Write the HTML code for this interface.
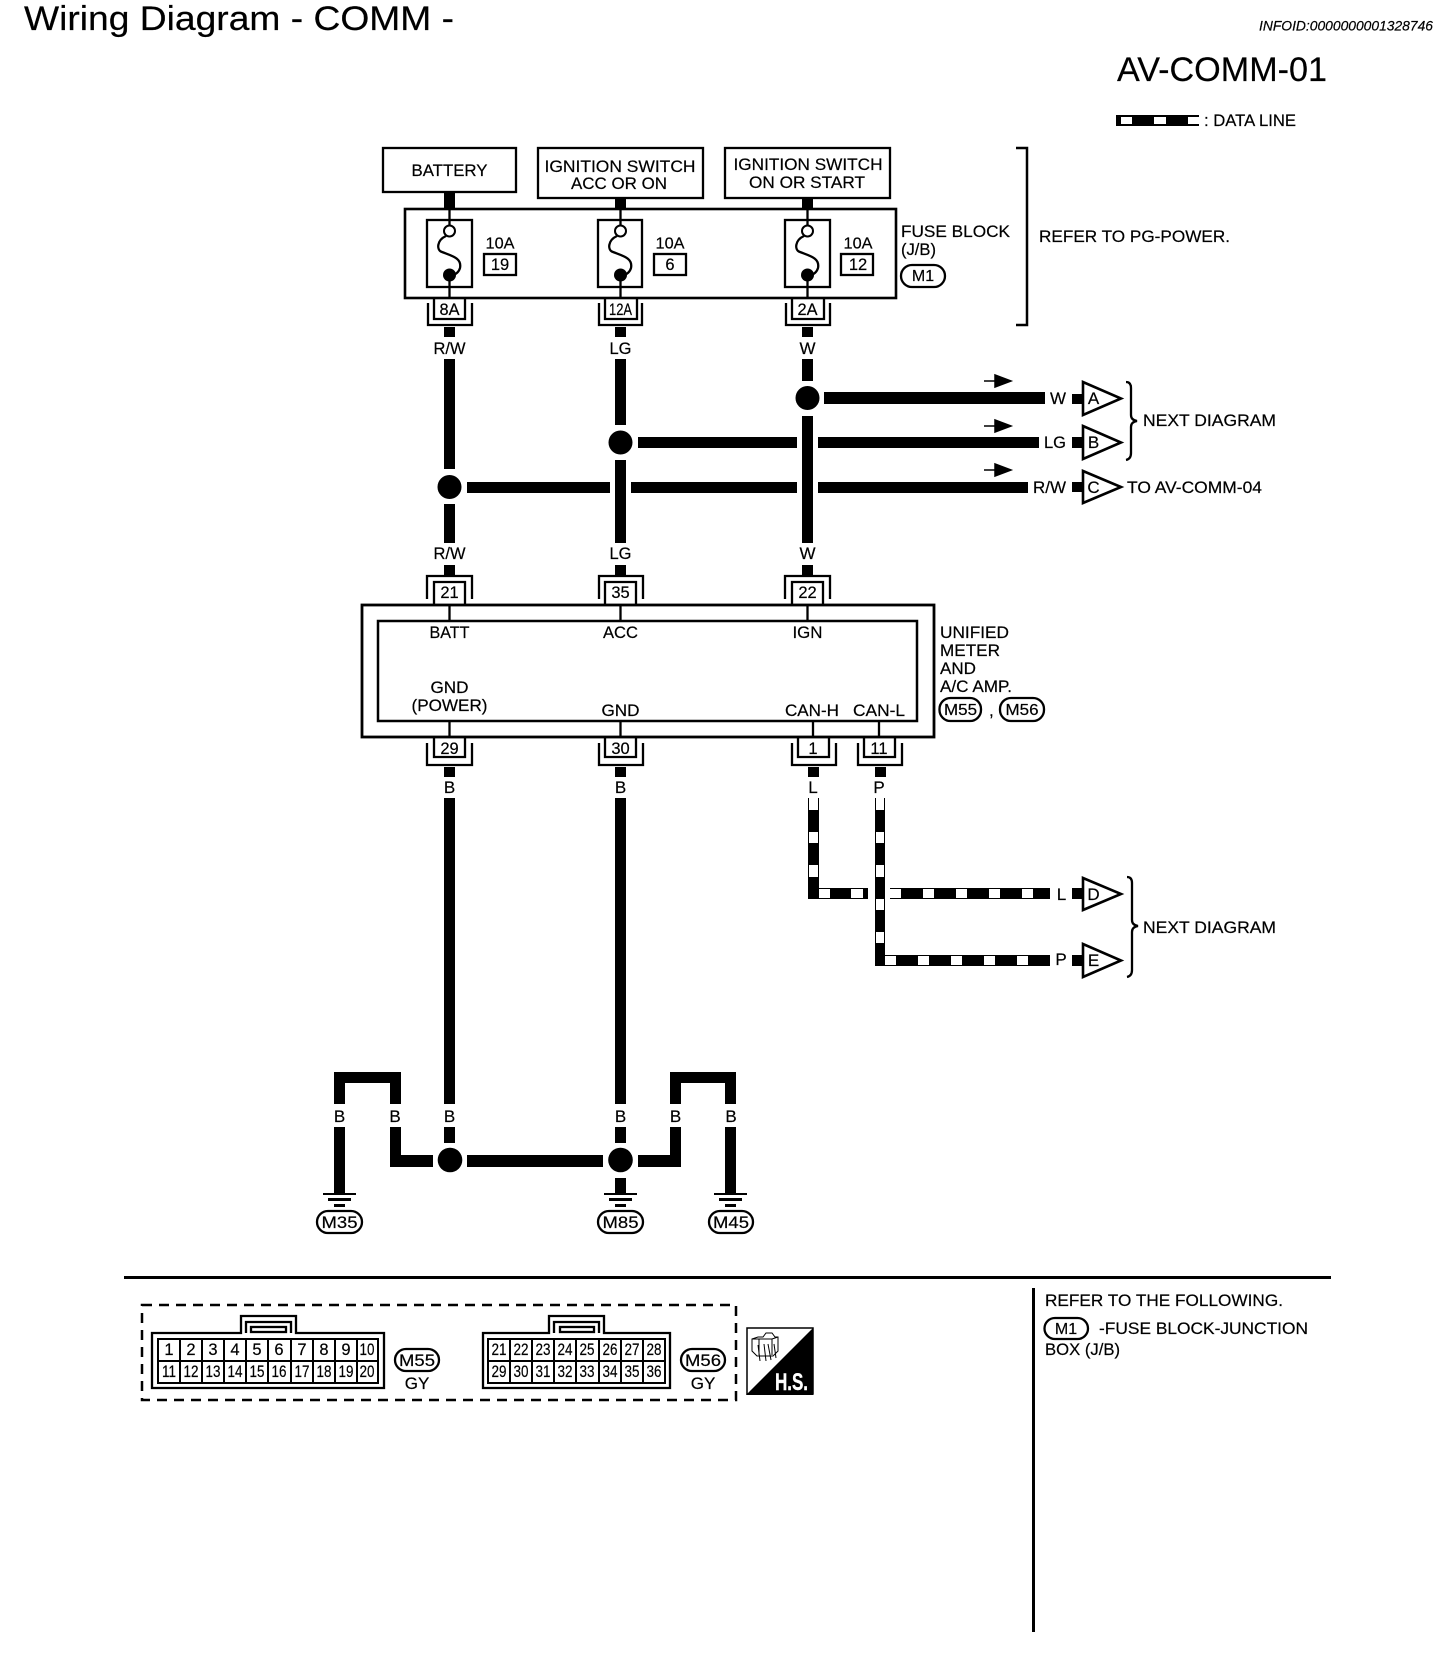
<!DOCTYPE html>
<html><head><meta charset="utf-8"><title>Wiring Diagram - COMM</title>
<style>
html,body{margin:0;padding:0;background:#fff}
svg{display:block}
text{font-family:"Liberation Sans",sans-serif;font-size:17px;fill:#000;stroke:#000;stroke-width:.2;transform:translateY(-1px)}
.m{text-anchor:middle}
.n{font-size:16.5px;text-anchor:middle}
.big{font-size:34.5px}
.c rect{shape-rendering:crispEdges}
.o{fill:#fff;stroke:#000;stroke-width:2.3}
.l{fill:none;stroke:#000;stroke-width:2.3}
.w{fill:#fff}
</style></head><body>
<svg xmlns="http://www.w3.org/2000/svg" width="1456" height="1658" viewBox="0 0 1456 1658">
<rect width="1456" height="1658" fill="#fff"/>

<text class="big" x="24" y="31" textLength="430" lengthAdjust="spacingAndGlyphs">Wiring Diagram - COMM -</text>
<text x="1259" y="31.5" font-style="italic" style="font-size:14px" textLength="174" lengthAdjust="spacingAndGlyphs">INFOID:0000000001328746</text>
<text class="big" x="1117" y="82" textLength="210" lengthAdjust="spacingAndGlyphs">AV-COMM-01</text>

<!-- legend -->
<g class="c">
<rect x="1116" y="115" width="83" height="11"/>
<rect class="w" x="1121" y="117" width="11" height="7"/>
<rect class="w" x="1154" y="117" width="12" height="7"/>
<rect class="w" x="1188" y="117" width="11" height="7"/>
</g>
<text x="1204" y="127" textLength="92" lengthAdjust="spacingAndGlyphs">: DATA LINE</text>

<!-- top boxes -->
<rect class="o" x="383" y="148" width="133" height="44"/>
<rect class="o" x="538" y="148" width="165" height="50"/>
<rect class="o" x="725" y="148" width="165" height="50"/>
<text class="m" x="449.5" y="177" textLength="76" lengthAdjust="spacingAndGlyphs">BATTERY</text>
<text class="m" x="620" y="173" textLength="151" lengthAdjust="spacingAndGlyphs">IGNITION SWITCH</text>
<text class="m" x="619" y="190" textLength="96" lengthAdjust="spacingAndGlyphs">ACC OR ON</text>
<text class="m" x="808" y="171" textLength="149" lengthAdjust="spacingAndGlyphs">IGNITION SWITCH</text>
<text class="m" x="807" y="189" textLength="116" lengthAdjust="spacingAndGlyphs">ON OR START</text>

<!-- stubs above fuse block -->
<g class="c">
<rect x="444" y="192" width="11" height="17"/>
<rect x="615" y="198" width="11" height="11"/>
<rect x="802" y="198" width="11" height="11"/>
</g>

<!-- fuse block -->
<rect class="o" x="405" y="209" width="491" height="89" style="stroke-width:2.6"/>
<rect class="o" x="427" y="220" width="45" height="67"/>
<rect class="o" x="598" y="220" width="44" height="67"/>
<rect class="o" x="785" y="220" width="45" height="67"/>

<g id="f1">
<path class="l" d="M449.5 209V226M449.5 275V298"/>
<circle cx="449.5" cy="231" r="5.5" fill="#fff" stroke="#000" stroke-width="2"/>
<circle cx="449.5" cy="275" r="6.5"/>
<path class="l" d="M446 236C437 240 436 250 442 252C452 256 462 258 460 268C459 272 456 274 452 276"/>
</g>
<g>
<path class="l" d="M620.5 209V226M620.5 275V298"/>
<circle cx="620.5" cy="231" r="5.5" fill="#fff" stroke="#000" stroke-width="2"/>
<circle cx="620.5" cy="275" r="6.5"/>
<path class="l" d="M617 236C608 240 607 250 613 252C623 256 633 258 631 268C630 272 627 274 623 276"/>
</g>
<g>
<path class="l" d="M807.5 209V226M807.5 275V298"/>
<circle cx="807.5" cy="231" r="5.5" fill="#fff" stroke="#000" stroke-width="2"/>
<circle cx="807.5" cy="275" r="6.5"/>
<path class="l" d="M804 236C795 240 794 250 800 252C810 256 820 258 818 268C817 272 814 274 810 276"/>
</g>

<text class="m" x="500" y="249.5" style="font-size:16px" textLength="29" lengthAdjust="spacingAndGlyphs">10A</text>
<text class="m" x="670" y="249.5" style="font-size:16px" textLength="29" lengthAdjust="spacingAndGlyphs">10A</text>
<text class="m" x="858" y="249.5" style="font-size:16px" textLength="29" lengthAdjust="spacingAndGlyphs">10A</text>
<rect class="o" x="484" y="254" width="32" height="21"/>
<rect class="o" x="654" y="254" width="32" height="21"/>
<rect class="o" x="841" y="254" width="32" height="21"/>
<text class="n" x="500" y="271">19</text>
<text class="n" x="670" y="271">6</text>
<text class="n" x="858" y="271">12</text>

<text x="901" y="238" textLength="109" lengthAdjust="spacingAndGlyphs">FUSE BLOCK</text>
<text x="901" y="256" textLength="35" lengthAdjust="spacingAndGlyphs">(J/B)</text>
<rect class="o" x="901" y="265" width="44" height="22" rx="11"/>
<text class="m" x="923" y="282" style="font-size:16px">M1</text>

<path d="M1016 148H1027V325H1016" fill="none" stroke="#000" stroke-width="2.5"/>
<text x="1039" y="243" textLength="191" lengthAdjust="spacingAndGlyphs">REFER TO PG-POWER.</text>

<!-- fuse connectors -->
<path class="l" d="M428 303V325H472V303M434 298V319H465V298"/>
<path class="l" d="M599 303V325H642V303M605 298V319H637V298"/>
<path class="l" d="M786 303V325H830V303M792 298V319H824V298"/>
<text class="n" x="449.5" y="316" textLength="20" lengthAdjust="spacingAndGlyphs">8A</text>
<text class="n" x="620.5" y="316" textLength="23" lengthAdjust="spacingAndGlyphs">12A</text>
<text class="n" x="807.5" y="316" textLength="20" lengthAdjust="spacingAndGlyphs">2A</text>

<!-- main wires -->
<g class="c">
<rect x="444" y="327" width="11" height="10"/>
<rect x="615" y="327" width="11" height="10"/>
<rect x="802" y="327" width="11" height="10"/>
<rect x="444" y="359" width="11" height="110"/>
<rect x="615" y="359" width="11" height="66"/>
<rect x="802" y="359" width="11" height="22"/>
<rect x="802" y="416" width="11" height="127"/>
<rect x="615" y="460" width="11" height="83"/>
<rect x="444" y="504" width="11" height="39"/>
<rect x="444" y="565" width="11" height="10"/>
<rect x="615" y="565" width="11" height="10"/>
<rect x="802" y="565" width="11" height="10"/>
<rect x="824" y="392" width="221" height="12"/>
<rect x="638" y="437" width="159" height="11"/>
<rect x="818" y="437" width="221" height="11"/>
<rect x="467" y="482" width="143" height="11"/>
<rect x="631" y="482" width="166" height="11"/>
<rect x="818" y="482" width="210" height="11"/>
<rect x="1072" y="394" width="11" height="10"/>
<rect x="1072" y="437" width="11" height="11"/>
<rect x="1072" y="482" width="11" height="10"/>
</g>
<circle cx="807.5" cy="398" r="12"/>
<circle cx="620.5" cy="442.5" r="12"/>
<circle cx="449.5" cy="487" r="12"/>

<text class="m" x="449.5" y="355" textLength="32" lengthAdjust="spacingAndGlyphs">R/W</text>
<text class="m" x="620.5" y="355" textLength="22" lengthAdjust="spacingAndGlyphs">LG</text>
<text class="m" x="807.5" y="355">W</text>
<text class="m" x="449.5" y="560" textLength="32" lengthAdjust="spacingAndGlyphs">R/W</text>
<text class="m" x="620.5" y="560" textLength="22" lengthAdjust="spacingAndGlyphs">LG</text>
<text class="m" x="807.5" y="560">W</text>

<!-- small direction arrows -->
<path d="M984 381h11v-6l16 6l-16 6v-6z" stroke="#000" stroke-width="1.5"/>
<path d="M984 426h11v-6l16 6l-16 6v-6z" stroke="#000" stroke-width="1.5"/>
<path d="M984 470h11v-6l16 6l-16 6v-6z" stroke="#000" stroke-width="1.5"/>

<text x="1050" y="405" textLength="16" lengthAdjust="spacingAndGlyphs">W</text>
<text x="1044" y="449" textLength="22" lengthAdjust="spacingAndGlyphs">LG</text>
<text x="1033" y="494" textLength="33" lengthAdjust="spacingAndGlyphs">R/W</text>

<path class="l" d="M1083 382V415L1121 398.5Z" style="stroke-width:2.6"/>
<path class="l" d="M1083 426V459L1121 442.5Z" style="stroke-width:2.6"/>
<path class="l" d="M1083 471V503L1121 487Z" style="stroke-width:2.6"/>
<text class="m" x="1093.5" y="405">A</text>
<text class="m" x="1093.5" y="449">B</text>
<text class="m" x="1093.5" y="494">C</text>

<path class="l" d="M1126 382q5 0 5 6V415q0 5 6 6q-6 1-6 6V453q0 6-5 7"/>
<text x="1143" y="427" textLength="133" lengthAdjust="spacingAndGlyphs">NEXT DIAGRAM</text>
<text x="1127" y="494" textLength="135" lengthAdjust="spacingAndGlyphs">TO AV-COMM-04</text>

<!-- meter top connectors -->
<path class="l" d="M427 599V576H472V599M434 604V582H465V604"/>
<path class="l" d="M599 599V576H643V599M605 604V582H636V604"/>
<path class="l" d="M785 599V576H830V599M792 604V582H823V604"/>
<text class="n" x="449.5" y="599">21</text>
<text class="n" x="620.5" y="599">35</text>
<text class="n" x="807.5" y="599">22</text>

<!-- meter -->
<rect class="o" x="362" y="605" width="572" height="132" style="stroke-width:2.8"/>
<rect class="o" x="378" y="621" width="539" height="100" style="stroke-width:2.5"/>
<path class="l" d="M449.5 605V621M620.5 605V621M807.5 605V621M449.5 721V737M620.5 721V737M813 721V737M879 721V737"/>
<text class="m" x="449.5" y="639" textLength="40" lengthAdjust="spacingAndGlyphs">BATT</text>
<text class="m" x="620.5" y="639" textLength="35" lengthAdjust="spacingAndGlyphs">ACC</text>
<text class="m" x="807.5" y="639" textLength="30" lengthAdjust="spacingAndGlyphs">IGN</text>
<text class="m" x="449.5" y="694" textLength="38" lengthAdjust="spacingAndGlyphs">GND</text>
<text class="m" x="449.5" y="712" textLength="76" lengthAdjust="spacingAndGlyphs">(POWER)</text>
<text class="m" x="620.5" y="717" textLength="38" lengthAdjust="spacingAndGlyphs">GND</text>
<text class="m" x="812" y="717" textLength="54" lengthAdjust="spacingAndGlyphs">CAN-H</text>
<text class="m" x="879" y="717" textLength="52" lengthAdjust="spacingAndGlyphs">CAN-L</text>
<text x="940" y="639" textLength="69" lengthAdjust="spacingAndGlyphs">UNIFIED</text>
<text x="940" y="657" textLength="60" lengthAdjust="spacingAndGlyphs">METER</text>
<text x="940" y="675" textLength="36" lengthAdjust="spacingAndGlyphs">AND</text>
<text x="940" y="693" textLength="72" lengthAdjust="spacingAndGlyphs">A/C AMP.</text>
<rect class="o" x="939.5" y="698" width="41.5" height="23" rx="11"/>
<text class="m" x="960.5" y="716" style="font-size:16px" textLength="33" lengthAdjust="spacingAndGlyphs">M55</text>
<text x="989" y="717">,</text>
<rect class="o" x="1000" y="698" width="44" height="23" rx="11"/>
<text class="m" x="1022" y="716" style="font-size:16px" textLength="33" lengthAdjust="spacingAndGlyphs">M56</text>

<!-- meter bottom connectors -->
<path class="l" d="M427 743V765H472V743M434 737V757H465V737"/>
<path class="l" d="M599 743V765H643V743M605 737V757H636V737"/>
<path class="l" d="M792 743V765H836V743M798 737V757H829V737"/>
<path class="l" d="M858 743V765H902V743M864 737V757H895V737"/>
<text class="n" x="449.5" y="755">29</text>
<text class="n" x="620.5" y="755">30</text>
<text class="n" x="813" y="755">1</text>
<text class="n" x="879" y="755">11</text>

<g class="c">
<rect x="444" y="767" width="11" height="10"/>
<rect x="615" y="767" width="11" height="10"/>
<rect x="808" y="767" width="11" height="10"/>
<rect x="875" y="767" width="11" height="10"/>
<rect x="444" y="798" width="11" height="306"/>
<rect x="615" y="798" width="11" height="306"/>
</g>
<text class="m" x="449.5" y="794">B</text>
<text class="m" x="620.5" y="794">B</text>
<text class="m" x="813" y="794">L</text>
<text class="m" x="879" y="794">P</text>

<!-- data lines -->
<g class="c">
<rect x="808" y="798" width="11" height="101"/>
<rect class="w" x="809" y="798" width="9" height="12"/>
<rect class="w" x="809" y="832" width="9" height="11"/>
<rect class="w" x="809" y="865" width="9" height="12"/>
<rect x="808" y="888" width="60" height="11"/>
<rect class="w" x="819" y="889" width="11" height="9"/>
<rect class="w" x="851" y="889" width="12" height="9"/>
<rect x="890" y="888" width="160" height="11"/>
<rect class="w" x="890" y="889" width="11" height="9"/>
<rect class="w" x="923" y="889" width="11" height="9"/>
<rect class="w" x="956" y="889" width="11" height="9"/>
<rect class="w" x="989" y="889" width="11" height="9"/>
<rect class="w" x="1022" y="889" width="11" height="9"/>
<rect x="875" y="798" width="10" height="168"/>
<rect class="w" x="876" y="798" width="8" height="12"/>
<rect class="w" x="876" y="832" width="8" height="11"/>
<rect class="w" x="876" y="865" width="8" height="12"/>
<rect class="w" x="876" y="899" width="8" height="11"/>
<rect class="w" x="876" y="932" width="8" height="11"/>
<rect x="875" y="955" width="175" height="11"/>
<rect class="w" x="885" y="956" width="11" height="9"/>
<rect class="w" x="918" y="956" width="11" height="9"/>
<rect class="w" x="951" y="956" width="11" height="9"/>
<rect class="w" x="984" y="956" width="11" height="9"/>
<rect class="w" x="1017" y="956" width="11" height="9"/>
<rect x="1072" y="888" width="11" height="11"/>
<rect x="1072" y="955" width="11" height="11"/>
</g>
<text class="m" x="1061.5" y="901">L</text>
<text class="m" x="1061" y="966">P</text>
<path class="l" d="M1083 878V910L1121 894Z" style="stroke-width:2.6"/>
<path class="l" d="M1083 944V977L1121 960.5Z" style="stroke-width:2.6"/>
<text class="m" x="1093.5" y="901">D</text>
<text class="m" x="1093.5" y="967">E</text>
<path class="l" d="M1127 877q5 0 5 6V920q0 5 6 6q-6 1-6 6V970q0 6-5 7"/>
<text x="1143" y="934" textLength="133" lengthAdjust="spacingAndGlyphs">NEXT DIAGRAM</text>

<!-- grounds -->
<g class="c">
<rect x="334" y="1072" width="67" height="11"/>
<rect x="334" y="1072" width="11" height="32"/>
<rect x="390" y="1072" width="11" height="32"/>
<rect x="670" y="1072" width="66" height="11"/>
<rect x="670" y="1072" width="11" height="32"/>
<rect x="725" y="1072" width="11" height="32"/>
<rect x="334" y="1127" width="11" height="66"/>
<rect x="390" y="1127" width="11" height="40"/>
<rect x="390" y="1155" width="43" height="12"/>
<rect x="444" y="1127" width="11" height="16"/>
<rect x="615" y="1127" width="11" height="16"/>
<rect x="467" y="1155" width="136" height="12"/>
<rect x="638" y="1155" width="43" height="12"/>
<rect x="670" y="1127" width="11" height="40"/>
<rect x="725" y="1127" width="11" height="66"/>
<rect x="615" y="1178" width="11" height="15"/>
<rect x="323" y="1193" width="33" height="2"/>
<rect x="328" y="1198" width="23" height="3"/>
<rect x="334" y="1204" width="11" height="3"/>
<rect x="604" y="1193" width="33" height="2"/>
<rect x="609" y="1198" width="23" height="3"/>
<rect x="615" y="1204" width="11" height="3"/>
<rect x="714" y="1193" width="33" height="2"/>
<rect x="719" y="1198" width="23" height="3"/>
<rect x="725" y="1204" width="11" height="3"/>
</g>
<circle cx="450" cy="1160" r="12.3"/>
<circle cx="620.5" cy="1160" r="12.3"/>
<text class="m" x="339.5" y="1123">B</text>
<text class="m" x="395" y="1123">B</text>
<text class="m" x="449.5" y="1123">B</text>
<text class="m" x="620.5" y="1123">B</text>
<text class="m" x="675.5" y="1123">B</text>
<text class="m" x="731" y="1123">B</text>
<rect class="o" x="317" y="1211" width="45" height="22" rx="11"/>
<rect class="o" x="598" y="1211" width="45" height="22" rx="11"/>
<rect class="o" x="709" y="1211" width="44" height="22" rx="11"/>
<text class="m" x="339.5" y="1229" textLength="36" lengthAdjust="spacingAndGlyphs">M35</text>
<text class="m" x="620.5" y="1229" textLength="36" lengthAdjust="spacingAndGlyphs">M85</text>
<text class="m" x="731" y="1229" textLength="36" lengthAdjust="spacingAndGlyphs">M45</text>

<!-- separators -->
<g class="c">
<rect x="124" y="1276" width="1207" height="3"/>
<rect x="1032" y="1288" width="3" height="344"/>
</g>
<rect x="142" y="1305" width="594" height="95" fill="none" stroke="#000" stroke-width="2.5" stroke-dasharray="10 7"/>

<!-- M55 connector -->
<path class="l" d="M152 1333H241V1316H296V1333H384V1388H152Z"/>
<path class="l" d="M246 1333V1322H291V1333"/>
<rect class="o" x="251" y="1327" width="35" height="5"/>
<path class="l" d="M158 1339H378V1383H158ZM158 1361H378M180 1339V1383M202 1339V1383M224 1339V1383M246 1339V1383M268 1339V1383M291 1339V1383M313 1339V1383M335 1339V1383M357 1339V1383" style="stroke-width:2"/>
<text class="n" x="169" y="1356">1</text><text class="n" x="191" y="1356">2</text><text class="n" x="213" y="1356">3</text><text class="n" x="235" y="1356">4</text><text class="n" x="257" y="1356">5</text><text class="n" x="279" y="1356">6</text><text class="n" x="302" y="1356">7</text><text class="n" x="324" y="1356">8</text><text class="n" x="346" y="1356">9</text><text class="n" x="367" y="1356" textLength="15" lengthAdjust="spacingAndGlyphs">10</text>
<text class="n" x="169" y="1378" textLength="14" lengthAdjust="spacingAndGlyphs">11</text><text class="n" x="191" y="1378" textLength="15" lengthAdjust="spacingAndGlyphs">12</text><text class="n" x="213" y="1378" textLength="15" lengthAdjust="spacingAndGlyphs">13</text><text class="n" x="235" y="1378" textLength="15" lengthAdjust="spacingAndGlyphs">14</text><text class="n" x="257" y="1378" textLength="15" lengthAdjust="spacingAndGlyphs">15</text><text class="n" x="279" y="1378" textLength="15" lengthAdjust="spacingAndGlyphs">16</text><text class="n" x="302" y="1378" textLength="15" lengthAdjust="spacingAndGlyphs">17</text><text class="n" x="324" y="1378" textLength="15" lengthAdjust="spacingAndGlyphs">18</text><text class="n" x="346" y="1378" textLength="15" lengthAdjust="spacingAndGlyphs">19</text><text class="n" x="367" y="1378" textLength="15" lengthAdjust="spacingAndGlyphs">20</text>
<rect class="o" x="395" y="1349" width="44" height="22" rx="11"/>
<text class="m" x="417" y="1367" textLength="36" lengthAdjust="spacingAndGlyphs">M55</text>
<text class="m" x="417" y="1390">GY</text>

<!-- M56 connector -->
<path class="l" d="M483 1333H549V1316H604V1333H670V1388H483Z"/>
<path class="l" d="M554 1333V1322H599V1333"/>
<rect class="o" x="560" y="1327" width="34" height="5"/>
<path class="l" d="M488 1339H665V1383H488ZM488 1361H665M510 1339V1383M532 1339V1383M554 1339V1383M576 1339V1383M599 1339V1383M621 1339V1383M643 1339V1383" style="stroke-width:2"/>
<text class="n" x="499" y="1356" textLength="15" lengthAdjust="spacingAndGlyphs">21</text><text class="n" x="521" y="1356" textLength="15" lengthAdjust="spacingAndGlyphs">22</text><text class="n" x="543" y="1356" textLength="15" lengthAdjust="spacingAndGlyphs">23</text><text class="n" x="565" y="1356" textLength="15" lengthAdjust="spacingAndGlyphs">24</text><text class="n" x="587" y="1356" textLength="15" lengthAdjust="spacingAndGlyphs">25</text><text class="n" x="610" y="1356" textLength="15" lengthAdjust="spacingAndGlyphs">26</text><text class="n" x="632" y="1356" textLength="15" lengthAdjust="spacingAndGlyphs">27</text><text class="n" x="654" y="1356" textLength="15" lengthAdjust="spacingAndGlyphs">28</text>
<text class="n" x="499" y="1378" textLength="15" lengthAdjust="spacingAndGlyphs">29</text><text class="n" x="521" y="1378" textLength="15" lengthAdjust="spacingAndGlyphs">30</text><text class="n" x="543" y="1378" textLength="15" lengthAdjust="spacingAndGlyphs">31</text><text class="n" x="565" y="1378" textLength="15" lengthAdjust="spacingAndGlyphs">32</text><text class="n" x="587" y="1378" textLength="15" lengthAdjust="spacingAndGlyphs">33</text><text class="n" x="610" y="1378" textLength="15" lengthAdjust="spacingAndGlyphs">34</text><text class="n" x="632" y="1378" textLength="15" lengthAdjust="spacingAndGlyphs">35</text><text class="n" x="654" y="1378" textLength="15" lengthAdjust="spacingAndGlyphs">36</text>
<rect class="o" x="681" y="1349" width="44" height="22" rx="11"/>
<text class="m" x="703" y="1367" textLength="36" lengthAdjust="spacingAndGlyphs">M56</text>
<text class="m" x="703" y="1390">GY</text>

<!-- H.S. icon -->
<rect x="747" y="1328" width="66" height="66" fill="#fff" stroke="#000" stroke-width="1.5"/>
<path d="M813 1328V1395H746Z"/>
<path d="M752 1339L758 1337H763L766 1333H772L775 1337H778V1351L773 1356H757L752 1351ZM752 1339H772M772 1339V1355M778 1337L772 1339M759 1339V1355M758 1345L760 1361M764 1344L766 1361M768 1344L771 1360M774 1344L776 1358" fill="none" stroke="#000" stroke-width="1"/>
<text x="775" y="1391" style="font-size:24px;font-weight:bold;fill:#fff;stroke:#fff;stroke-width:.4" textLength="33" lengthAdjust="spacingAndGlyphs">H.S.</text>

<!-- notes -->
<text x="1045" y="1307" textLength="238" lengthAdjust="spacingAndGlyphs">REFER TO THE FOLLOWING.</text>
<rect class="o" x="1044.5" y="1318" width="43.5" height="21" rx="10.5"/>
<text class="m" x="1066" y="1335" style="font-size:16px">M1</text>
<text x="1099" y="1335" textLength="209" lengthAdjust="spacingAndGlyphs">-FUSE BLOCK-JUNCTION</text>
<text x="1045" y="1356" textLength="75" lengthAdjust="spacingAndGlyphs">BOX (J/B)</text>
</svg>
</body></html>
